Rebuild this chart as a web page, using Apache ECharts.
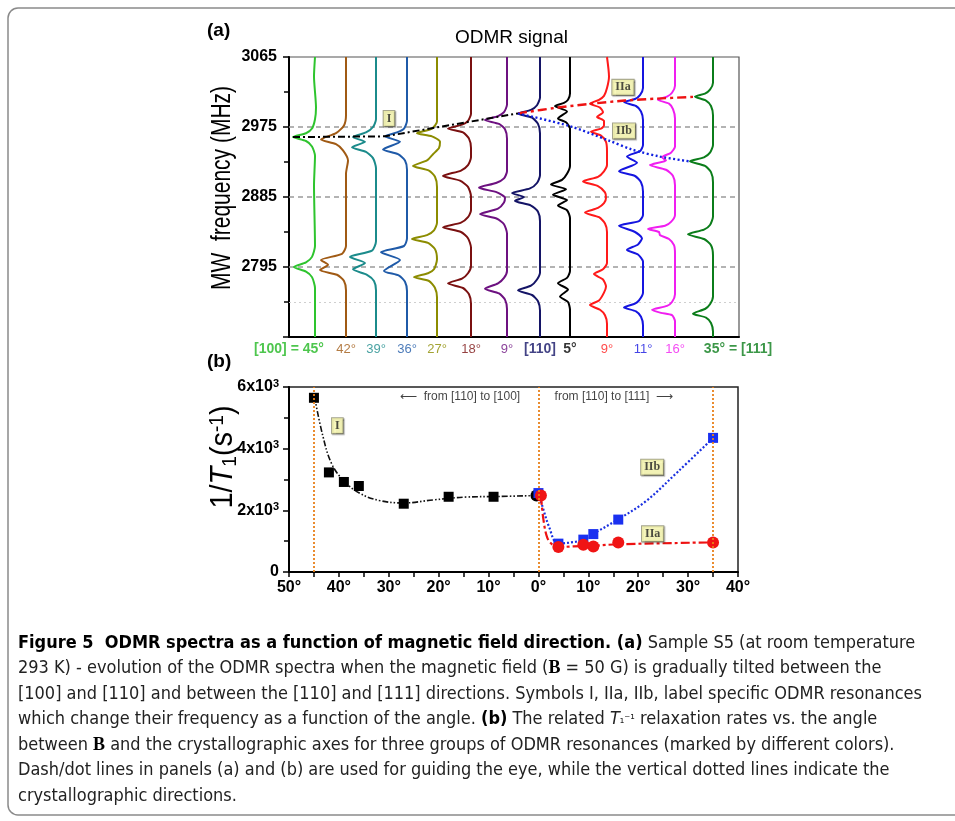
<!DOCTYPE html>
<html>
<head>
<meta charset="utf-8">
<script src="https://cdn.jsdelivr.net/npm/echarts@6/dist/echarts.min.js"></script>
<style>
  html, body { margin: 0; padding: 0; background: #fff; }
  #chart { width: 955px; height: 821px; }
</style>
</head>
<body>
<div id="chart"></div>
<script>
// ---------- panel (a): ODMR traces, [frequency (MHz), dip depth]
const traceOffsets = [26, 57, 87, 118, 148, 182, 218, 251, 281, 318, 354, 386, 424];
const angleLabels = ['[100] = 45°', '42°', '39°', '36°', '27°', '18°', '9°', '[110]', '5°', '9°', '11°', '16°', '35° = [111]'];

const trace45 = [[3065,0],[3040,1],[3000,-1],[2985,0],[2973,3],[2967,9],[2962,22],[2957,9],[2950,3],[2938,0],[2900,1],[2822,0],[2808,3],[2801,9],[2795,21],[2789,9],[2782,3],[2768,0],[2705,0]];
const trace42 = [[3065,0],[2990,0],[2977,2],[2967,10],[2959,25],[2953,10],[2945,3],[2932,-2],[2915,0],[2822,0],[2812,4],[2804,25],[2798,18],[2791,26],[2785,9],[2777,2],[2765,0],[2705,0]];
const trace39 = [[3065,0],[2985,0],[2975,3],[2968,10],[2962,23],[2956,11],[2949,24],[2943,10],[2935,3],[2922,0],[2828,0],[2816,4],[2808,26],[2800,11],[2792,23],[2785,9],[2777,2],[2765,0],[2705,0]];
const trace36 = [[3065,0],[2983,0],[2973,3],[2968,10],[2963,22],[2956,7],[2946,24],[2940,9],[2932,2],[2920,0],[2832,0],[2822,3],[2814,26],[2804,7],[2790,23],[2784,8],[2776,2],[2764,0],[2705,0]];
const trace27 = [[3065,0],[2982,0],[2973,5],[2967,20],[2963,5],[2956,-3],[2948,-2],[2940,4],[2932,10],[2925,24],[2919,8],[2911,2],[2898,0],[2852,0],[2842,3],[2836,10],[2831,25],[2826,9],[2818,2],[2805,0],[2792,3],[2787,9],[2782,23],[2777,8],[2768,2],[2756,0],[2705,0]];
const trace18 = [[3065,0],[2992,0],[2983,3],[2978,9],[2973,23],[2968,8],[2960,2],[2948,0],[2936,0],[2926,3],[2919,10],[2912,28],[2906,11],[2898,3],[2886,0],[2868,0],[2859,3],[2852,10],[2846,28],[2840,10],[2832,3],[2820,0],[2796,0],[2787,3],[2780,9],[2774,23],[2768,8],[2760,2],[2748,0],[2705,0]];
const trace9p = [[3065,0],[3004,0],[2994,3],[2989,9],[2984,22],[2979,8],[2972,2],[2960,0],[2918,0],[2909,3],[2903,11],[2897,28],[2891,10],[2884,2],[2878,3],[2870,9],[2863,27],[2857,10],[2850,3],[2838,0],[2790,0],[2781,3],[2774,9],[2767,22],[2761,8],[2753,2],[2741,0],[2705,0]];
const trace110 = [[3065,0],[3013,0],[3003,3],[2997,9],[2992,22],[2987,8],[2979,2],[2967,0],[2913,0],[2903,3],[2896,10],[2890,28],[2885,16],[2880,25],[2874,9],[2866,2],[2854,0],[2788,0],[2779,3],[2771,9],[2765,22],[2759,8],[2751,2],[2739,0],[2705,0]];
const trace5 = [[3065,0],[3018,0],[3010,2],[3006,6],[3002,15],[2995,3],[2986,12],[2981,4],[2973,0],[2925,0],[2915,3],[2907,8],[2901,19],[2895,4],[2888,17],[2881,3],[2874,12],[2868,3],[2858,0],[2790,0],[2781,3],[2774,12],[2766,2],[2757,10],[2750,2],[2740,0],[2705,0]];
const trace9r = [[3065,0],[3040,-2],[3025,0],[3015,3],[3010,8],[3005,17],[3000,7],[2994,4],[2988,10],[2983,3],[2977,3],[2973,6],[2969,16],[2964,6],[2956,1],[2944,0],[2926,0],[2918,3],[2911,9],[2905,24],[2899,9],[2891,2],[2884,1],[2877,3],[2871,9],[2865,22],[2859,8],[2851,2],[2840,0],[2800,0],[2792,4],[2786,13],[2779,4],[2770,1],[2762,3],[2752,8],[2746,17],[2740,7],[2733,2],[2722,0],[2705,0]];
const trace11 = [[3065,0],[3025,0],[3016,3],[3011,8],[3007,19],[3002,7],[2995,2],[2984,0],[2952,0],[2944,3],[2937,16],[2929,6],[2918,24],[2912,8],[2904,2],[2892,0],[2862,0],[2854,4],[2848,24],[2840,8],[2832,1],[2824,5],[2817,16],[2811,5],[2802,0],[2762,0],[2752,4],[2748,8],[2743,19],[2738,7],[2731,2],[2720,0],[2705,0]];
const trace16 = [[3065,0],[3028,0],[3019,3],[3014,8],[3010,17],[3005,6],[2998,2],[2986,0],[2950,0],[2942,4],[2936,13],[2932,9],[2926,25],[2920,9],[2912,2],[2900,0],[2862,0],[2853,4],[2848,10],[2844,27],[2840,16],[2836,15],[2831,6],[2823,1],[2812,0],[2760,0],[2750,3],[2745,8],[2740,23],[2736,14],[2733,3],[2725,0],[2705,0]];
const trace35 = [[3065,0],[3032,0],[3023,3],[3018,8],[3014,18],[3009,7],[3002,2],[2990,0],[2952,0],[2942,3],[2936,9],[2931,23],[2925,8],[2917,2],[2904,0],[2860,0],[2849,3],[2843,9],[2837,25],[2831,9],[2823,2],[2810,0],[2757,0],[2747,3],[2741,8],[2735,20],[2730,7],[2723,2],[2712,0],[2705,0]];
const traces = [trace45, trace42, trace39, trace36, trace27, trace18, trace9p, trace110, trace5, trace9r, trace11, trace16, trace35];

// guide lines through the resonances, [trace offset, frequency]
const guideI = [[4,2962],[96,2963],[229,2992.5]];
const guideIIa = [[229,2992.5],[269,3000],[303,3005],[336,3009],[368,3011.5],[404,3013.7]];
const guideIIb = [[229,2992.5],[281,2976],[319,2958],[343,2946],[371,2937],[401,2930.7]];

// ---------- panel (b): 1/T1 rates, [angle (deg, [100] side negative), rate (1/s)]
const rateI = [[-45,5650],[-42,3230],[-39,2920],[-36,2790],[-27,2215],[-18,2440],[-9,2440]];
const rateI0 = [[-0.4,2480]];
const rateIIb = [[0,2560],[4,920],[9,1050],[11,1230],[16,1700],[35,4350]];
const rateIIa = [[0.5,2480],[4,810],[9,885],[11,830],[16,960],[35,960]];
const fitI = [[-44.9,5695],[-43.2,4400],[-41.5,3530],[-39.2,2990],[-35.9,2560],[-31.9,2320],[-27,2240],[-21,2340],[-14.5,2430],[-8,2450],[0,2480]];
const fitIIa = [[0.5,2470],[1.0,1700],[1.8,1100],[3,860],[4,810],[7,830],[11,850],[16,900],[35,960]];
const fitIIb = [[0,2550],[0.8,2130],[2.1,1480],[3.9,920],[7,970],[9,1050],[10.9,1230],[15.9,1700],[21.5,2290],[28,3260],[35,4345]];
const directions = [-45, 0, 35];

const capLines = [
  '{b|Figure 5  ODMR spectra as a function of magnetic field direction. (a)} Sample S5 (at room temperature',
  '293 K) - evolution of the ODMR spectra when the magnetic field ({B|B} = 50 G) is gradually tilted between the',
  '[100] and [110] and between the [110] and [111] directions. Symbols I, IIa, IIb, label specific ODMR resonances',
  'which change their frequency as a function of the angle. {b|(b)} The related {i|T}{s|₁⁻¹} relaxation rates vs. the angle',
  'between {B|B} and the crystallographic axes for three groups of ODMR resonances (marked by different colors).',
  'Dash/dot lines in panels (a) and (b) are used for guiding the eye, while the vertical dotted lines indicate the',
  'crystallographic directions.'
];

const traceColors = ['#2ec42e','#a05a14','#1b8b8b','#1f5aa8','#8c8c00','#7a1010','#6d1180','#141466','#000000','#ff1a1a','#1515e0','#f01ef0','#0b7d1a'];
const boldLabel = [true,false,false,false,false,false,false,true,true,false,false,false,true];
const sans = "'Liberation Sans', Arial, sans-serif";
const serif = "'Liberation Serif', 'DejaVu Serif', serif";

// caption font: fit the longest full line to the reference width
const capFamily = "'Liberation Sans Narrow','DejaVu Sans Condensed','Liberation Sans',sans-serif";
const mctx = document.createElement('canvas').getContext('2d');
mctx.font = '20px ' + capFamily;
const capSize = Math.min(21, 20 * 905 / mctx.measureText(capLines[2]).width);

const chart = echarts.init(document.getElementById('chart'), null, { renderer: 'canvas' });

const boxLabel = {
  show: true, position: 'inside', color: '#222', fontFamily: serif, fontWeight: 'bold', fontSize: 12,
  backgroundColor: '#ffffb4', borderColor: '#8f8f70', borderWidth: 1, padding: [2, 3, 1, 3],
  shadowColor: 'rgba(0,0,0,0.35)', shadowOffsetX: 1, shadowOffsetY: 1, shadowBlur: 1
};
const hidden = { color: 'rgba(0,0,0,0)' };

const series = [];
traces.forEach((t, i) => {
  series.push({
    type: 'line', xAxisIndex: 0, yAxisIndex: 0, smooth: 0.22, symbol: 'none', silent: true,
    data: t.map(p => [traceOffsets[i] - p[1], p[0]]),
    lineStyle: { color: traceColors[i], width: 2 },
    z: 3,
    markLine: i === 0 ? {
      symbol: 'none', silent: true, label: { show: false },
      data: [
        { yAxis: 2975, lineStyle: { color: '#9a9a9a', type: [5, 4], width: 1.6 } },
        { yAxis: 2885, lineStyle: { color: '#9a9a9a', type: [5, 4], width: 1.6 } },
        { yAxis: 2795, lineStyle: { color: '#9a9a9a', type: [5, 4], width: 1.6 } },
        { yAxis: 2750, lineStyle: { color: '#cfcfcf', type: [2, 3], width: 1.2 } }
      ],
      z: 1
    } : undefined
  });
});
series.push(
  { type: 'line', xAxisIndex: 0, yAxisIndex: 0, data: guideI, symbol: 'none', z: 5,
    lineStyle: { color: '#000', width: 2, type: [7, 3, 2, 3] } },
  { type: 'line', xAxisIndex: 0, yAxisIndex: 0, data: guideIIa, symbol: 'none', smooth: 0.3, z: 5,
    lineStyle: { color: '#ee1111', width: 2.4, type: [9, 4, 3, 4] } },
  { type: 'line', xAxisIndex: 0, yAxisIndex: 0, data: guideIIb, symbol: 'none', smooth: 0.3, z: 5,
    lineStyle: { color: '#1020e0', width: 2.4, type: [2, 2.5] } },
  { type: 'scatter', xAxisIndex: 0, yAxisIndex: 0, symbolSize: 1, itemStyle: hidden, z: 6,
    label: boxLabel,
    data: [
      { value: [100, 2986], label: { formatter: 'I' } },
      { value: [334, 3026], label: { formatter: 'IIa' } },
      { value: [335, 2970], label: { formatter: 'IIb' } }
    ] },
  { type: 'scatter', xAxisIndex: 0, yAxisIndex: 0, symbolSize: 1, itemStyle: hidden,
    label: { show: true, position: 'bottom', distance: 5, fontFamily: sans, fontSize: 13 },
    data: angleLabels.map((s, i) => ({
      value: [traceOffsets[i], 2705],
      label: {
        formatter: s, color: traceColors[i] === '#2ec42e' ? '#22b822' : traceColors[i],
        fontWeight: boldLabel[i] ? 'bold' : 'normal', fontSize: boldLabel[i] ? 14 : 13,
        offset: i === 0 ? [-26, 0] : (i === 12 ? [25, 0] : [0, 0])
      }
    })) },

  // panel (b)
  { type: 'line', xAxisIndex: 1, yAxisIndex: 1, data: [], symbol: 'none',
    markLine: { symbol: 'none', silent: true, label: { show: false },
      lineStyle: { color: '#e8801a', type: [2, 2], width: 1.8 },
      data: directions.map(d => ({ xAxis: d })) } },
  { type: 'line', xAxisIndex: 1, yAxisIndex: 1, data: fitI, smooth: 0.4, symbol: 'none', z: 3,
    lineStyle: { color: '#111', width: 1.6, type: [6, 2, 1.5, 2, 1.5, 2] } },
  { type: 'line', xAxisIndex: 1, yAxisIndex: 1, data: fitIIb, smooth: 0.35, symbol: 'none', z: 3,
    lineStyle: { color: '#1a30e0', width: 2.2, type: [2, 2] } },
  { type: 'line', xAxisIndex: 1, yAxisIndex: 1, data: fitIIa, smooth: 0.35, symbol: 'none', z: 3,
    lineStyle: { color: '#ee1111', width: 2.2, type: [9, 3, 3, 3] } },
  { type: 'scatter', xAxisIndex: 1, yAxisIndex: 1, data: rateI, symbol: 'rect', symbolSize: 10, z: 4,
    itemStyle: { color: '#000', opacity: 1 } },
  { type: 'scatter', xAxisIndex: 1, yAxisIndex: 1, data: rateI0, symbol: 'circle', symbolSize: 12, z: 4,
    itemStyle: { color: '#000', opacity: 1 } },
  { type: 'scatter', xAxisIndex: 1, yAxisIndex: 1, data: rateIIb, symbol: 'rect', symbolSize: 10, z: 4,
    itemStyle: { color: '#1a30f0', opacity: 1 } },
  { type: 'scatter', xAxisIndex: 1, yAxisIndex: 1, data: rateIIa, symbol: 'circle', symbolSize: 12, z: 4,
    itemStyle: { color: '#f01414', opacity: 1 } },
  { type: 'scatter', xAxisIndex: 1, yAxisIndex: 1, symbolSize: 1, itemStyle: hidden, z: 6,
    label: boxLabel,
    data: [
      { value: [-40.3, 4745], label: { formatter: 'I' } },
      { value: [22.8, 3400], label: { formatter: 'IIb' } },
      { value: [22.9, 1240], label: { formatter: 'IIa' } }
    ] },
  { type: 'scatter', xAxisIndex: 1, yAxisIndex: 1, symbolSize: 1, itemStyle: hidden, z: 6,
    label: { show: true, position: 'inside', fontFamily: sans, fontSize: 12, color: '#111' },
    data: [
      { value: [-15.7, 5700], label: { formatter: '⟵  from [110] to [100]' } },
      { value: [15.1, 5700], label: { formatter: 'from [110] to [111]  ⟶' } }
    ] }
);

const capRich = {
  b: { fontFamily: capFamily, fontSize: capSize, fontWeight: 'bold', fill: '#000' },
  B: { fontFamily: serif, fontSize: capSize, fontWeight: 'bold', fill: '#000' },
  i: { fontFamily: capFamily, fontSize: capSize, fontStyle: 'italic', fill: '#222' },
  s: { fontFamily: capFamily, fontSize: capSize * 0.7, fill: '#222' }
};

const tickFont = { fontFamily: sans, fontWeight: 'bold', fontSize: 16, color: '#000' };

const option = {
  animation: false,
  backgroundColor: '#fff',
  title: [
    { text: '(a)', left: 207, top: 21, padding: 0, textStyle: { fontFamily: sans, fontSize: 19, fontWeight: 'bold', color: '#000' } },
    { text: '(b)', left: 207, top: 352, padding: 0, textStyle: { fontFamily: sans, fontSize: 19, fontWeight: 'bold', color: '#000' } },
    { text: 'ODMR signal', left: 455, top: 28, padding: 0, textStyle: { fontFamily: sans, fontSize: 19, fontWeight: 'normal', color: '#000' } }
  ],
  grid: [
    { left: 289, top: 57, width: 450, height: 280, show: true, borderColor: '#555', borderWidth: 1.2 },
    { left: 289, top: 387, width: 449, height: 185, show: true, borderColor: '#222', borderWidth: 1.5 }
  ],
  xAxis: [
    { gridIndex: 0, type: 'value', min: 0, max: 450,
      axisLine: { onZero: false, lineStyle: { color: '#000', width: 2 } },
      axisTick: { show: false }, axisLabel: { show: false }, splitLine: { show: false } },
    { gridIndex: 1, type: 'value', min: -50, max: 40, interval: 10,
      axisLine: { onZero: false, lineStyle: { color: '#000', width: 2 } },
      axisTick: { length: 5, lineStyle: { width: 1.5, color: '#000' } },
      minorTick: { show: true, splitNumber: 2, length: 5, lineStyle: { width: 1.5, color: '#000' } },
      axisLabel: Object.assign({ formatter: v => Math.abs(v) + '°', margin: 8 }, tickFont),
      splitLine: { show: false } }
  ],
  yAxis: [
    { gridIndex: 0, type: 'value', min: 2705, max: 3065, interval: 90,
      axisLine: { onZero: false, lineStyle: { color: '#000', width: 2 } },
      axisTick: { length: 6, lineStyle: { width: 1.5, color: '#000' } },
      minorTick: { show: true, splitNumber: 2, length: 5, lineStyle: { width: 1.5, color: '#000' } },
      axisLabel: Object.assign({ formatter: v => v === 2705 ? '' : String(v), margin: 12 }, tickFont),
      splitLine: { show: false } },
    { gridIndex: 1, type: 'value', min: 0, max: 6000, interval: 2000,
      axisLine: { onZero: false, lineStyle: { color: '#000', width: 2 } },
      axisTick: { length: 6, lineStyle: { width: 1.5, color: '#000' } },
      minorTick: { show: true, splitNumber: 2, length: 5, lineStyle: { width: 1.5, color: '#000' } },
      axisLabel: Object.assign({
        formatter: v => v === 0 ? '0' : '{m|' + (v / 1000) + 'x10}{e|3}', margin: 10,
        rich: {
          m: { fontFamily: sans, fontWeight: 'bold', fontSize: 16, color: '#000', lineHeight: 18 },
          e: { fontFamily: sans, fontWeight: 'bold', fontSize: 11, color: '#000', verticalAlign: 'top', lineHeight: 11 }
        } }, tickFont),
      splitLine: { show: false } }
  ],
  graphic: [
    { type: 'rect', shape: { x: 8, y: 8, width: 1000, height: 807, r: [10, 0, 0, 10] },
      style: { fill: 'none', stroke: '#8a8a8a', lineWidth: 1.5 }, silent: true, z: 0 },
    { type: 'text', x: 222, y: 188, rotation: Math.PI / 2, scaleY: 1.3, silent: true,
      style: { text: 'MW  frequency (MHz)', font: '21px ' + sans, fill: '#000', align: 'center', verticalAlign: 'middle' } },
    { type: 'text', x: 224, y: 457, rotation: Math.PI / 2, scaleY: 1.05, silent: true,
      style: { text: '{n|1/}{t|T}{sb|1}{n|(s}{sp|-1}{n|)}', fill: '#000', align: 'center', verticalAlign: 'middle',
        rich: {
          n: { font: '29px ' + sans, fill: '#000', lineHeight: 32 },
          t: { font: 'italic 29px ' + sans, fill: '#000', lineHeight: 32 },
          sb: { font: '19px ' + sans, fill: '#000', verticalAlign: 'bottom', lineHeight: 19 },
          sp: { font: '19px ' + sans, fill: '#000', verticalAlign: 'top', lineHeight: 19 }
        } } }
  ].concat(capLines.map((t, i) => ({
    type: 'text', x: 18, y: 643 + i * 25.5, silent: true,
    style: { text: t, font: capSize + 'px ' + capFamily, fill: '#222', verticalAlign: 'middle', rich: capRich }
  }))),
  series: series
};

chart.setOption(option);
</script>
</body>
</html>
